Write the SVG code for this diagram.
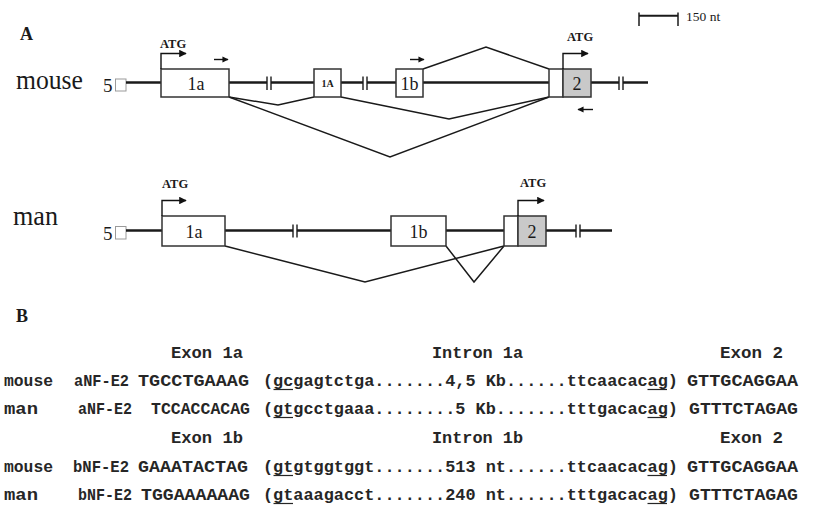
<svg xmlns="http://www.w3.org/2000/svg" width="813" height="513" viewBox="0 0 813 513">
  <defs>
    <style>
      .bg { fill: #ffffff; }
      .gene { stroke: #1a1a1a; stroke-width: 2.6; fill: none; }
      .splice { stroke: #1a1a1a; stroke-width: 1.5; fill: none; stroke-linejoin: miter; }
      .exon { fill: #ffffff; stroke: #333333; stroke-width: 1.5; }
      .exon-grey { fill: #c9c9c9; stroke: #333333; stroke-width: 1.5; }
      .brk { stroke: #1a1a1a; stroke-width: 1.4; }
      .gap { fill: #ffffff; }
      .tss { stroke: #111111; stroke-width: 1.4; fill: none; }
      .primer { stroke: #111111; stroke-width: 1.4; fill: none; }
      .serif { font-family: "Liberation Serif", "Times New Roman", serif; fill: #1a1a1a; }
      .lbl { font-size: 18px; text-anchor: middle; }
      .atg { font-size: 12.5px; font-weight: bold; }
      .panel { font-size: 18px; font-weight: bold; }
      .species { font-size: 27px; }
      .five { font-size: 19px; }
      .mono { font-family: "Liberation Mono", "Courier New", monospace; font-size: 17px; font-weight: bold; fill: #262626; }
      .ul { stroke: #262626; stroke-width: 1.2; }
      .cap { fill: #ffffff; stroke: #9a9a9a; stroke-width: 1; }
    </style>
    <marker id="tip" viewBox="0 0 10 10" refX="9" refY="5" markerWidth="5.4" markerHeight="5.4" orient="auto" markerUnits="strokeWidth">
      <path d="M0,0 L10,5 L0,10 z" fill="#111111"/>
    </marker>
    <marker id="tip-small" viewBox="0 0 10 10" refX="9" refY="5" markerWidth="4.4" markerHeight="4.4" orient="auto" markerUnits="strokeWidth">
      <path d="M0,0 L10,5 L0,10 z" fill="#111111"/>
    </marker>
  </defs>

  <rect class="bg" x="0" y="0" width="813" height="513"/>

  <!-- scale bar -->
  <g id="scale-bar">
    <line x1="639" y1="15.7" x2="678" y2="15.7" stroke="#1a1a1a" stroke-width="2"/>
    <line x1="639" y1="12.5" x2="639" y2="26" stroke="#1a1a1a" stroke-width="1.5"/>
    <line x1="678" y1="12.5" x2="678" y2="26" stroke="#1a1a1a" stroke-width="1.5"/>
    <text class="serif" x="686" y="21" font-size="13.5">150 nt</text>
  </g>

  <text class="serif panel" x="20" y="40">A</text>
  <text class="serif panel" x="16" y="322">B</text>

  <!-- ===== mouse gene ===== -->
  <text class="serif species" x="16" y="89" textLength="67" lengthAdjust="spacingAndGlyphs">mouse</text>
  <text class="serif five" x="103" y="92">5</text>
  <rect class="cap" x="115.5" y="79" width="10.5" height="12"/>

  <g id="mouse-connectors">
    <!-- genomic backbone -->
    <line class="gene" x1="126" y1="82.5" x2="161" y2="82.5"/>
    <line class="gene" x1="229" y1="82.5" x2="314" y2="82.5"/>
    <line class="gene" x1="341" y1="82.5" x2="396" y2="82.5"/>
    <line class="gene" x1="423" y1="82.5" x2="549" y2="82.5"/>
    <line class="gene" x1="591" y1="82.5" x2="648" y2="82.5"/>
    <!-- splice junctions -->
    <polyline class="splice" points="229,97 278,105 314,97"/>
    <polyline class="splice" points="341,97 449,119 549,97"/>
    <polyline class="splice" points="229,97 390,157 549,97"/>
    <polyline class="splice" points="423,69 486,47 549,69"/>
  </g>

  <!-- breaks in the mouse backbone -->
  <g id="mouse-breaks">
    <rect class="gap" x="267" y="78" width="4" height="9"/>
    <line class="brk" x1="267" y1="76.5" x2="267" y2="90"/>
    <line class="brk" x1="271" y1="76.5" x2="271" y2="90"/>
    <rect class="gap" x="363" y="78" width="4" height="9"/>
    <line class="brk" x1="363" y1="76.5" x2="363" y2="90"/>
    <line class="brk" x1="367" y1="76.5" x2="367" y2="90"/>
    <rect class="gap" x="619" y="78" width="4" height="9"/>
    <line class="brk" x1="619" y1="76.5" x2="619" y2="90"/>
    <line class="brk" x1="623" y1="76.5" x2="623" y2="90"/>
  </g>

  <g id="mouse-exon-1a">
    <rect class="exon" x="161" y="69" width="68" height="28"/>
    <text class="serif lbl" x="196" y="90">1a</text>
    <polyline class="tss" points="161,69 161,53.5 186,53.5" marker-end="url(#tip)"/>
    <text class="serif atg" x="160" y="47.5">ATG</text>
    <line class="primer" x1="214" y1="59.5" x2="228" y2="59.5" marker-end="url(#tip-small)"/>
  </g>

  <g id="mouse-exon-1A">
    <rect class="exon" x="314" y="69" width="27" height="28"/>
    <text class="serif" x="327.5" y="86.5" font-size="10" font-weight="bold" text-anchor="middle">1A</text>
  </g>

  <g id="mouse-exon-1b">
    <rect class="exon" x="396" y="69" width="27" height="28"/>
    <text class="serif lbl" x="409.5" y="90">1b</text>
    <line class="primer" x1="410" y1="59.5" x2="424" y2="59.5" marker-end="url(#tip-small)"/>
  </g>

  <g id="mouse-exon-2">
    <rect class="exon" x="549" y="69" width="14" height="28"/>
    <rect class="exon-grey" x="563" y="69" width="28" height="28"/>
    <text class="serif lbl" x="577" y="90">2</text>
    <polyline class="tss" points="563,69 563,53.5 588,53.5" marker-end="url(#tip)"/>
    <text class="serif atg" x="567" y="41">ATG</text>
    <line class="primer" x1="593" y1="109.5" x2="578" y2="109.5" marker-end="url(#tip-small)"/>
  </g>

  <!-- ===== human gene ===== -->
  <text class="serif species" x="13" y="225" textLength="45" lengthAdjust="spacingAndGlyphs">man</text>
  <text class="serif five" x="103" y="240">5</text>
  <rect class="cap" x="115.5" y="226.5" width="10.5" height="12.5"/>

  <g id="man-connectors">
    <line class="gene" x1="126" y1="230.5" x2="162" y2="230.5"/>
    <line class="gene" x1="225" y1="230.5" x2="391" y2="230.5"/>
    <line class="gene" x1="446" y1="230.5" x2="504" y2="230.5"/>
    <line class="gene" x1="546" y1="230.5" x2="612" y2="230.5"/>
    <polyline class="splice" points="225,246 365,282 504,246"/>
    <polyline class="splice" points="446,246 474,282 504,246"/>
  </g>

  <g id="man-breaks">
    <rect class="gap" x="293" y="226" width="4" height="9"/>
    <line class="brk" x1="293" y1="224.5" x2="293" y2="237.5"/>
    <line class="brk" x1="297" y1="224.5" x2="297" y2="237.5"/>
    <rect class="gap" x="576" y="226" width="4" height="9"/>
    <line class="brk" x1="576" y1="224.5" x2="576" y2="237.5"/>
    <line class="brk" x1="580" y1="224.5" x2="580" y2="237.5"/>
  </g>

  <g id="man-exon-1a">
    <rect class="exon" x="162" y="216" width="63" height="30"/>
    <text class="serif lbl" x="194" y="238">1a</text>
    <polyline class="tss" points="162,216 162,200.5 186,200.5" marker-end="url(#tip)"/>
    <text class="serif atg" x="162" y="188">ATG</text>
  </g>

  <g id="man-exon-1b">
    <rect class="exon" x="391" y="216" width="55" height="30"/>
    <text class="serif lbl" x="418.5" y="238">1b</text>
  </g>

  <g id="man-exon-2">
    <rect class="exon" x="504" y="216" width="14" height="30"/>
    <rect class="exon-grey" x="518" y="216" width="28" height="30"/>
    <text class="serif lbl" x="532" y="238">2</text>
    <polyline class="tss" points="518,216 518,200.5 544,200.5" marker-end="url(#tip)"/>
    <text class="serif atg" x="520" y="186.5">ATG</text>
  </g>

  <!-- ===== splice-site sequences ===== -->
  <g id="seq-header-1a">
    <text class="mono" x="171" y="358" textLength="72" lengthAdjust="spacingAndGlyphs">Exon 1a</text>
    <text class="mono" x="432" y="358" textLength="91" lengthAdjust="spacingAndGlyphs">Intron 1a</text>
    <text class="mono" x="720" y="358" textLength="63" lengthAdjust="spacingAndGlyphs">Exon 2</text>
  </g>

  <g id="seq-mouse-a">
    <text class="mono" x="4" y="386" textLength="49" lengthAdjust="spacingAndGlyphs">mouse</text>
    <text class="mono" x="74" y="386" textLength="55" lengthAdjust="spacingAndGlyphs">aNF-E2</text>
    <text class="mono" x="138" y="386" textLength="111" lengthAdjust="spacingAndGlyphs">TGCCTGAAAG</text>
    <text class="mono" x="263" y="386" textLength="415" lengthAdjust="spacingAndGlyphs">(gcgagtctga.......4,5 Kb......ttcaacacag)</text>
    <text class="mono" x="687" y="386" textLength="111" lengthAdjust="spacingAndGlyphs">GTTGCAGGAA</text>
    <line class="ul" x1="273.5" y1="389.5" x2="293" y2="389.5"/>
    <line class="ul" x1="647.5" y1="389.5" x2="667" y2="389.5"/>
  </g>

  <g id="seq-man-a">
    <text class="mono" x="4" y="414" textLength="34" lengthAdjust="spacingAndGlyphs">man</text>
    <text class="mono" x="78" y="414" textLength="54" lengthAdjust="spacingAndGlyphs">aNF-E2</text>
    <text class="mono" x="151" y="414" textLength="99" lengthAdjust="spacingAndGlyphs">TCCACCACAG</text>
    <text class="mono" x="263" y="414" textLength="415" lengthAdjust="spacingAndGlyphs">(gtgcctgaaa........5 Kb.......tttgacacag)</text>
    <text class="mono" x="689" y="414" textLength="109" lengthAdjust="spacingAndGlyphs">GTTTCTAGAG</text>
    <line class="ul" x1="273.5" y1="417.5" x2="293" y2="417.5"/>
    <line class="ul" x1="647.5" y1="417.5" x2="667" y2="417.5"/>
  </g>

  <g id="seq-header-1b">
    <text class="mono" x="171" y="443" textLength="72" lengthAdjust="spacingAndGlyphs">Exon 1b</text>
    <text class="mono" x="432" y="443" textLength="91" lengthAdjust="spacingAndGlyphs">Intron 1b</text>
    <text class="mono" x="720" y="443" textLength="63" lengthAdjust="spacingAndGlyphs">Exon 2</text>
  </g>

  <g id="seq-mouse-b">
    <text class="mono" x="4" y="472" textLength="49" lengthAdjust="spacingAndGlyphs">mouse</text>
    <text class="mono" x="73" y="472" textLength="56" lengthAdjust="spacingAndGlyphs">bNF-E2</text>
    <text class="mono" x="138" y="472" textLength="110" lengthAdjust="spacingAndGlyphs">GAAATACTAG</text>
    <text class="mono" x="263" y="472" textLength="415" lengthAdjust="spacingAndGlyphs">(gtgtggtggt.......513 nt......ttcaacacag)</text>
    <text class="mono" x="687" y="472" textLength="111" lengthAdjust="spacingAndGlyphs">GTTGCAGGAA</text>
    <line class="ul" x1="273.5" y1="475.5" x2="293" y2="475.5"/>
    <line class="ul" x1="647.5" y1="475.5" x2="667" y2="475.5"/>
  </g>

  <g id="seq-man-b">
    <text class="mono" x="4" y="500" textLength="34" lengthAdjust="spacingAndGlyphs">man</text>
    <text class="mono" x="78" y="500" textLength="54" lengthAdjust="spacingAndGlyphs">bNF-E2</text>
    <text class="mono" x="141" y="500" textLength="109" lengthAdjust="spacingAndGlyphs">TGGAAAAAAG</text>
    <text class="mono" x="263" y="500" textLength="415" lengthAdjust="spacingAndGlyphs">(gtaaagacct.......240 nt......tttgacacag)</text>
    <text class="mono" x="689" y="500" textLength="109" lengthAdjust="spacingAndGlyphs">GTTTCTAGAG</text>
    <line class="ul" x1="273.5" y1="503.5" x2="293" y2="503.5"/>
    <line class="ul" x1="647.5" y1="503.5" x2="667" y2="503.5"/>
  </g>
</svg>
